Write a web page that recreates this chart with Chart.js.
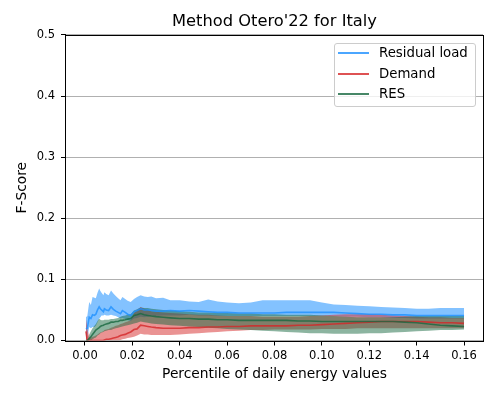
<!DOCTYPE html>
<html><head><meta charset="utf-8">
<script src="https://cdn.jsdelivr.net/npm/chart.js@4/dist/chart.umd.min.js"></script>
<style>
html,body{margin:0;padding:0;background:#fff;}
#wrap{position:relative;width:498px;height:399px;}
#legend{position:absolute;left:334px;top:43px;width:140px;height:62px;border:1px solid #cccccc;border-radius:3px;background:rgba(255,255,255,0.8);font-family:"DejaVu Sans",sans-serif;font-size:13.3px;color:#000;}
.item{position:absolute;left:0;height:16px;line-height:16px;width:140px;}
.sw{position:absolute;left:3px;top:7px;width:31px;height:2px;}
.lbl{position:absolute;left:44px;top:0;white-space:nowrap;}
</style></head>
<body><div id="wrap"><canvas id="c" width="498" height="399"></canvas><div id="legend"></div></div>
<script>
const titleText = "Method Otero'22 for Italy";
const xLabel = "Percentile of daily energy values";
const yLabel = "F-Score";
const seriesNames = ["Residual load", "Demand", "RES"];
const xTicks = [0.00, 0.02, 0.04, 0.06, 0.08, 0.10, 0.12, 0.14, 0.16];
const yTicks = [0.0, 0.1, 0.2, 0.3, 0.4, 0.5];

const percentiles = [0.0004,0.001,0.0018,0.0025,0.0032,0.004,0.0046,0.0053,0.006,0.0065,
  0.007,0.0078,0.0082,0.009,0.010,0.011,0.012,0.013,0.014,0.015,
  0.0158,0.017,0.018,0.0193,0.0207,0.022,0.0235,0.025,0.0265,0.028,
  0.030,0.033,0.036,0.040,0.044,0.048,0.052,0.056,0.060,0.065,
  0.070,0.075,0.080,0.085,0.090,0.095,0.100,0.105,0.110,0.115,
  0.120,0.125,0.130,0.135,0.140,0.145,0.150,0.155,0.160];

const residualHigh = [0.038,0.040,0.063,0.058,0.071,0.070,0.069,0.078,0.085,0.081,
  0.078,0.074,0.079,0.076,0.074,0.082,0.077,0.073,0.069,0.066,
  0.071,0.068,0.065,0.063,0.068,0.071,0.074,0.072,0.071,0.072,
  0.069,0.070,0.066,0.066,0.064,0.063,0.067,0.064,0.062,0.061,
  0.062,0.066,0.066,0.066,0.066,0.066,0.062,0.059,0.058,0.057,
  0.056,0.055,0.054,0.053,0.052,0.052,0.053,0.053,0.053];
const residualMean = [0.019,0.020,0.038,0.036,0.042,0.041,0.043,0.050,0.055,0.052,
  0.050,0.047,0.052,0.050,0.049,0.055,0.051,0.048,0.046,0.044,
  0.049,0.046,0.043,0.041,0.047,0.049,0.052,0.050,0.050,0.049,
  0.048,0.048,0.049,0.048,0.049,0.048,0.047,0.046,0.046,0.045,
  0.045,0.045,0.045,0.046,0.046,0.046,0.046,0.046,0.045,0.044,
  0.043,0.043,0.042,0.042,0.041,0.041,0.041,0.041,0.041];
const residualLow = [0.000,0.005,0.022,0.020,0.022,0.022,0.024,0.030,0.036,0.038,
  0.041,0.041,0.042,0.041,0.041,0.042,0.041,0.040,0.038,0.036,
  0.037,0.035,0.033,0.032,0.036,0.037,0.039,0.038,0.039,0.040,
  0.040,0.041,0.041,0.041,0.042,0.041,0.041,0.040,0.040,0.040,
  0.040,0.040,0.040,0.040,0.040,0.040,0.040,0.040,0.039,0.039,
  0.038,0.038,0.037,0.037,0.036,0.036,0.036,0.036,0.036];

const demandHigh = [0.036,0.020,0.006,0.005,0.006,0.007,0.008,0.010,0.012,0.013,
  0.014,0.015,0.017,0.018,0.019,0.021,0.022,0.024,0.025,0.027,
  0.028,0.030,0.031,0.033,0.045,0.050,0.055,0.052,0.050,0.048,
  0.047,0.046,0.045,0.044,0.043,0.042,0.042,0.041,0.040,0.040,
  0.040,0.039,0.039,0.039,0.039,0.040,0.041,0.042,0.043,0.043,
  0.043,0.042,0.041,0.040,0.039,0.038,0.038,0.037,0.037];
const demandMean = [0.015,0.000,0.000,0.000,0.000,0.000,0.000,0.000,0.000,0.000,
  0.000,0.000,0.001,0.002,0.002,0.003,0.004,0.005,0.006,0.008,
  0.009,0.010,0.012,0.014,0.018,0.019,0.025,0.024,0.023,0.022,
  0.021,0.020,0.020,0.020,0.021,0.021,0.022,0.022,0.023,0.023,
  0.024,0.024,0.024,0.024,0.025,0.025,0.026,0.027,0.028,0.029,
  0.030,0.031,0.031,0.031,0.031,0.030,0.029,0.029,0.028];
const demandLow = [0,0,0,0,0,0,0,0,0,0,
  0,0,0,0,0,0,0,0,0,0.001,
  0.002,0.003,0.004,0.005,0.006,0.008,0.011,0.010,0.010,0.009,
  0.009,0.009,0.009,0.010,0.011,0.012,0.013,0.014,0.015,0.016,
  0.017,0.017,0.018,0.018,0.018,0.018,0.019,0.019,0.019,0.020,
  0.020,0.020,0.020,0.020,0.020,0.020,0.020,0.020,0.020];

const resHigh = [0.000,0.000,0.010,0.015,0.020,0.024,0.027,0.032,0.036,0.034,
  0.033,0.033,0.034,0.034,0.034,0.035,0.035,0.036,0.037,0.039,
  0.040,0.041,0.042,0.043,0.049,0.051,0.054,0.053,0.053,0.052,
  0.051,0.050,0.049,0.048,0.047,0.046,0.046,0.045,0.045,0.044,
  0.044,0.043,0.043,0.042,0.042,0.042,0.041,0.040,0.039,0.038,
  0.038,0.038,0.038,0.039,0.040,0.040,0.040,0.040,0.040];
const resMean = [0.000,0.000,0.003,0.006,0.010,0.014,0.017,0.019,0.021,0.023,
  0.024,0.025,0.026,0.027,0.028,0.030,0.030,0.031,0.031,0.033,
  0.033,0.034,0.035,0.036,0.041,0.042,0.044,0.042,0.041,0.040,
  0.039,0.038,0.037,0.036,0.036,0.035,0.035,0.034,0.034,0.033,
  0.033,0.033,0.033,0.033,0.032,0.032,0.031,0.031,0.031,0.031,
  0.031,0.031,0.031,0.030,0.029,0.027,0.025,0.024,0.023];
const resLow = [0,0,0,0,0.002,0.004,0.005,0.008,0.010,0.012,
  0.013,0.014,0.015,0.016,0.017,0.017,0.019,0.020,0.021,0.022,
  0.023,0.024,0.025,0.026,0.028,0.029,0.031,0.030,0.029,0.028,
  0.027,0.026,0.025,0.024,0.023,0.022,0.021,0.020,0.019,0.018,
  0.017,0.016,0.015,0.014,0.013,0.012,0.012,0.011,0.011,0.011,
  0.012,0.012,0.013,0.014,0.015,0.016,0.017,0.017,0.018];

const baseColors = ['30,144,255', '214,39,40', '25,105,65'];
const fillAlpha = [0.55, 0.5, 0.5];

const pts = arr => percentiles.map((p, i) => ({x: p, y: arr[i]}));
const groups = [
  [residualLow, residualMean, residualHigh],
  [demandLow, demandMean, demandHigh],
  [resLow, resMean, resHigh]
];
const datasets = [];
groups.forEach((g, s) => {
  const base = datasets.length;
  const fillOrd = 20 - s * 2;
  const lineOrd = 6 - s;
  datasets.push({label: seriesNames[s] + ' low', data: pts(g[0]), borderWidth: 0, pointRadius: 0, fill: false, order: fillOrd + 1});
  datasets.push({label: seriesNames[s] + ' high', data: pts(g[2]), borderWidth: 0, pointRadius: 0,
    fill: base, backgroundColor: 'rgba(' + baseColors[s] + ',' + fillAlpha[s] + ')', order: fillOrd});
  datasets.push({label: seriesNames[s], data: pts(g[1]), borderWidth: 1.6, pointRadius: 0, fill: false,
    borderColor: 'rgba(' + baseColors[s] + ',0.8)', order: lineOrd});
});

const frame = {
  id: 'frame',
  afterDraw(chart) {
    const {ctx, chartArea: a} = chart;
    ctx.save();
    ctx.strokeStyle = '#000';
    ctx.lineWidth = 1;
    ctx.strokeRect(Math.round(a.left) - 0.5, Math.round(a.top) + 0.5, Math.round(a.right - a.left) + 1, Math.round(a.bottom - a.top));
    ctx.restore();
  }
};

Chart.defaults.font.family = '"DejaVu Sans"';
Chart.defaults.color = '#000';

new Chart(document.getElementById('c'), {
  type: 'line',
  data: {datasets},
  options: {
    responsive: false,
    animation: false,
    events: [],
    layout: {padding: {left: 0, right: 15, top: 0, bottom: 0}},
    plugins: {
      legend: {display: false},
      tooltip: {enabled: false},
      title: {display: true, text: titleText, fullSize: false, color: '#000',
        font: {size: 16.3, weight: 'normal'}, padding: {top: 11.5, bottom: 3.9}}
    },
    scales: {
      x: {
        type: 'linear', min: -0.008, max: 0.168,
        afterBuildTicks: s => { s.ticks = xTicks.map(v => ({value: v})); },
        afterFit: s => { s.height = 58.5; },
        ticks: {font: {size: 11.5}, padding: 4, maxRotation: 0, autoSkip: false, color: '#000',
          callback: v => Number(v).toFixed(2)},
        grid: {drawOnChartArea: false, drawTicks: true, tickLength: 5, tickColor: '#000'},
        border: {display: false},
        title: {display: true, text: xLabel, font: {size: 13.8}, color: '#000', padding: {top: 0, bottom: 16.5}}
      },
      y: {
        type: 'linear', min: 0, max: 0.5,
        afterBuildTicks: s => { s.ticks = yTicks.map(v => ({value: v})); },
        afterFit: s => { s.width = 66; },
        ticks: {font: {size: 11.5}, padding: 6, color: '#000', callback: v => Number(v).toFixed(1)},
        grid: {color: '#b0b0b0', lineWidth: 1, drawTicks: true, tickLength: 5, tickColor: '#000'},
        border: {display: false},
        title: {display: true, text: yLabel, font: {size: 13.8}, color: '#000', padding: {top: 13.9, bottom: 0}}
      }
    }
  },
  plugins: [frame]
});

const legend = document.getElementById('legend');
const rowTops = [1.3, 21.8, 42.3];
seriesNames.forEach((name, i) => {
  const item = document.createElement('div');
  item.className = 'item';
  item.style.top = rowTops[i] + 'px';
  const sw = document.createElement('div');
  sw.className = 'sw';
  sw.style.background = 'rgba(' + baseColors[i] + ',0.8)';
  const lb = document.createElement('div');
  lb.className = 'lbl';
  lb.textContent = name;
  item.appendChild(sw); item.appendChild(lb);
  legend.appendChild(item);
});
</script>
</body></html>
